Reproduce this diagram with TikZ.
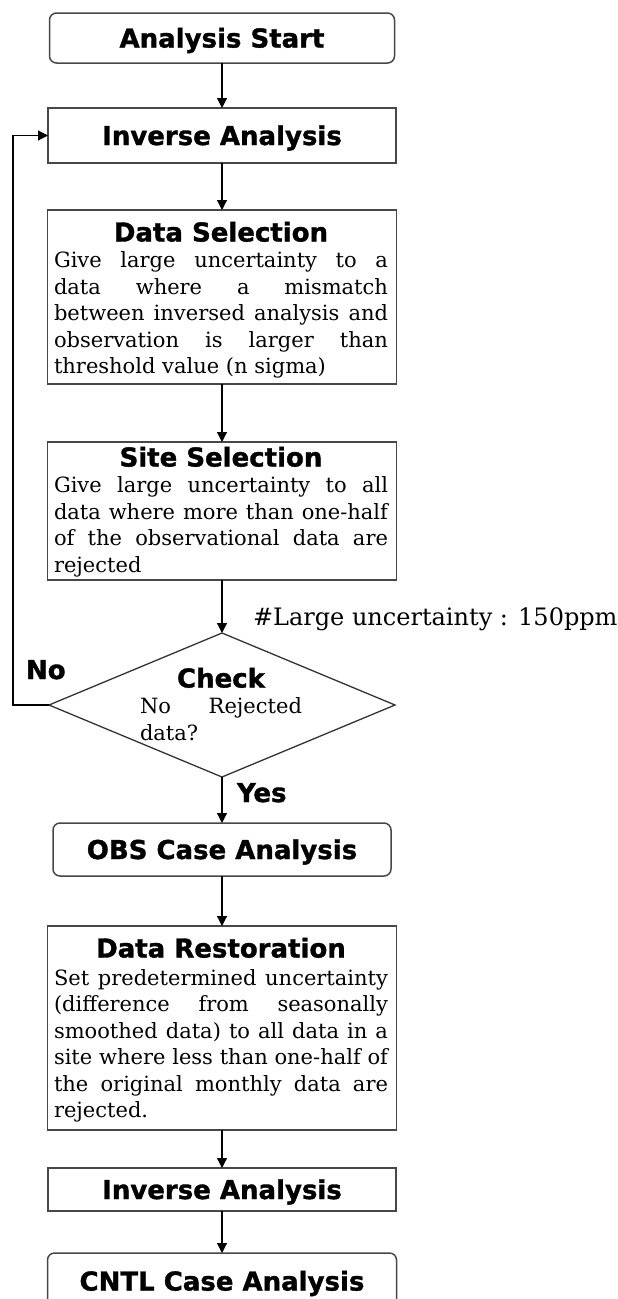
\documentclass[tikz,border=0pt]{standalone}
\usepackage{fontspec}
\newfontfamily\headfont{DejaVu Sans}[BoldFeatures={FakeBold=1.3}]
\newfontfamily\bodyfont{DejaVu Serif}
\usetikzlibrary{shapes.geometric,arrows.meta}

% bold centred heading line inside a text block
\newcommand\headline[1]{{\centering\headfont\bfseries\fontsize{26}{26.4}\selectfont #1\par}}
% one fully justified line of body text
\newcommand\jline[1]{\makebox[\linewidth][s]{#1}\par}
% text block whose baseline is its first line
\newcommand\boxtext[2]{\parbox[t]{#1}{\bodyfont\fontsize{21}{26.4}\selectfont #2}}

\begin{document}
\begin{tikzpicture}[x=1pt,y=-1pt,
  box/.style={draw=black!72, line width=1.5pt, inner sep=0pt, outer sep=0pt},
  roundbox/.style={box, rounded corners=7pt},
  title/.style={font=\headfont\bfseries\fontsize{26}{30}\selectfont, text height=19pt, text depth=0pt},
  flow/.style={draw=black, line width=1.2pt, -{Triangle[length=10pt,width=10pt]}},
  txt/.style={inner sep=0pt, outer sep=0pt, anchor=base},
  label/.style={txt, anchor=base west, font=\headfont\bfseries\fontsize{26}{30}\selectfont}]

\useasboundingbox (0,0) rectangle (618,1299);
\fill[white] (0,0) rectangle (618,1299);
\clip (0,0) rectangle (618,1299);

% process boxes
\node[roundbox, title, minimum width=345pt, minimum height=50pt] (start) at (222,38) {Analysis Start};
\node[box, title, minimum width=348pt, minimum height=55pt] (inv1) at (222,135.5) {Inverse Analysis};

\node[box, minimum width=349pt, minimum height=174pt] (dsel) at (222,297) {};
\node[txt] (dselText) at (221,241.5) {\boxtext{334pt}{\headline{Data Selection}%
  \jline{Give large uncertainty to a}%
  \jline{data where a mismatch}%
  \jline{between inversed analysis and}%
  \jline{observation is larger than}%
  threshold value (n sigma)}};

\node[box, minimum width=349pt, minimum height=138pt] (ssel) at (222,511) {};
\node[txt] (sselText) at (221,466.5) {\boxtext{334pt}{\headline{Site Selection}%
  \jline{Give large uncertainty to all}%
  \jline{data where more than one-half}%
  \jline{of the observational data are}%
  rejected}};

% decision
\node[diamond, draw=black!80, line width=1.3pt, minimum width=346pt, minimum height=144pt, inner sep=0pt, outer sep=0pt] (check) at (222,705) {};
\node[txt] (checkText) at (221,687.5) {\boxtext{162pt}{\headline{Check}%
  \jline{No Rejected}%
  data?}};

\node[txt, anchor=base west] (note) at (253,625) {\bodyfont\fontsize{24}{28}\selectfont \#Large uncertainty : 150ppm};
\node[label] (noLabel) at (26,679) {No};
\node[label] (yesLabel) at (237,802) {Yes};

\node[roundbox, title, minimum width=338pt, minimum height=53pt] (obs) at (222,849.5) {OBS Case Analysis};

\node[box, minimum width=349pt, minimum height=204pt] (drest) at (222,1028) {};
\node[txt] (drestText) at (221,957.5) {\boxtext{334pt}{\headline{Data Restoration}%
  \vspace{1.6pt}%
  \jline{Set predetermined uncertainty}%
  \jline{(difference from seasonally}%
  \jline{smoothed data) to all data in a}%
  \jline{site where less than one-half of}%
  \jline{the original monthly data are}%
  rejected.}};

\node[box, title, minimum width=348pt, minimum height=43pt] (inv2) at (222,1189.5) {Inverse Analysis};
\node[roundbox, title, minimum width=349pt, minimum height=56pt] (cntl) at (222,1281) {CNTL Case Analysis};

% connectors
\draw[flow] (start) -- (inv1);
\draw[flow] (inv1) -- (dsel);
\draw[flow] (dsel) -- (ssel);
\draw[flow] (ssel) -- (check);
\draw[flow] (check) -- (obs);
\draw[flow] (obs) -- (drest);
\draw[flow] (drest) -- (inv2);
\draw[flow] (inv2) -- (cntl);

\coordinate (loopCorner) at (13,705);
\draw[flow] (check.west) -- (loopCorner) |- (inv1.west);
\end{tikzpicture}
\end{document}
